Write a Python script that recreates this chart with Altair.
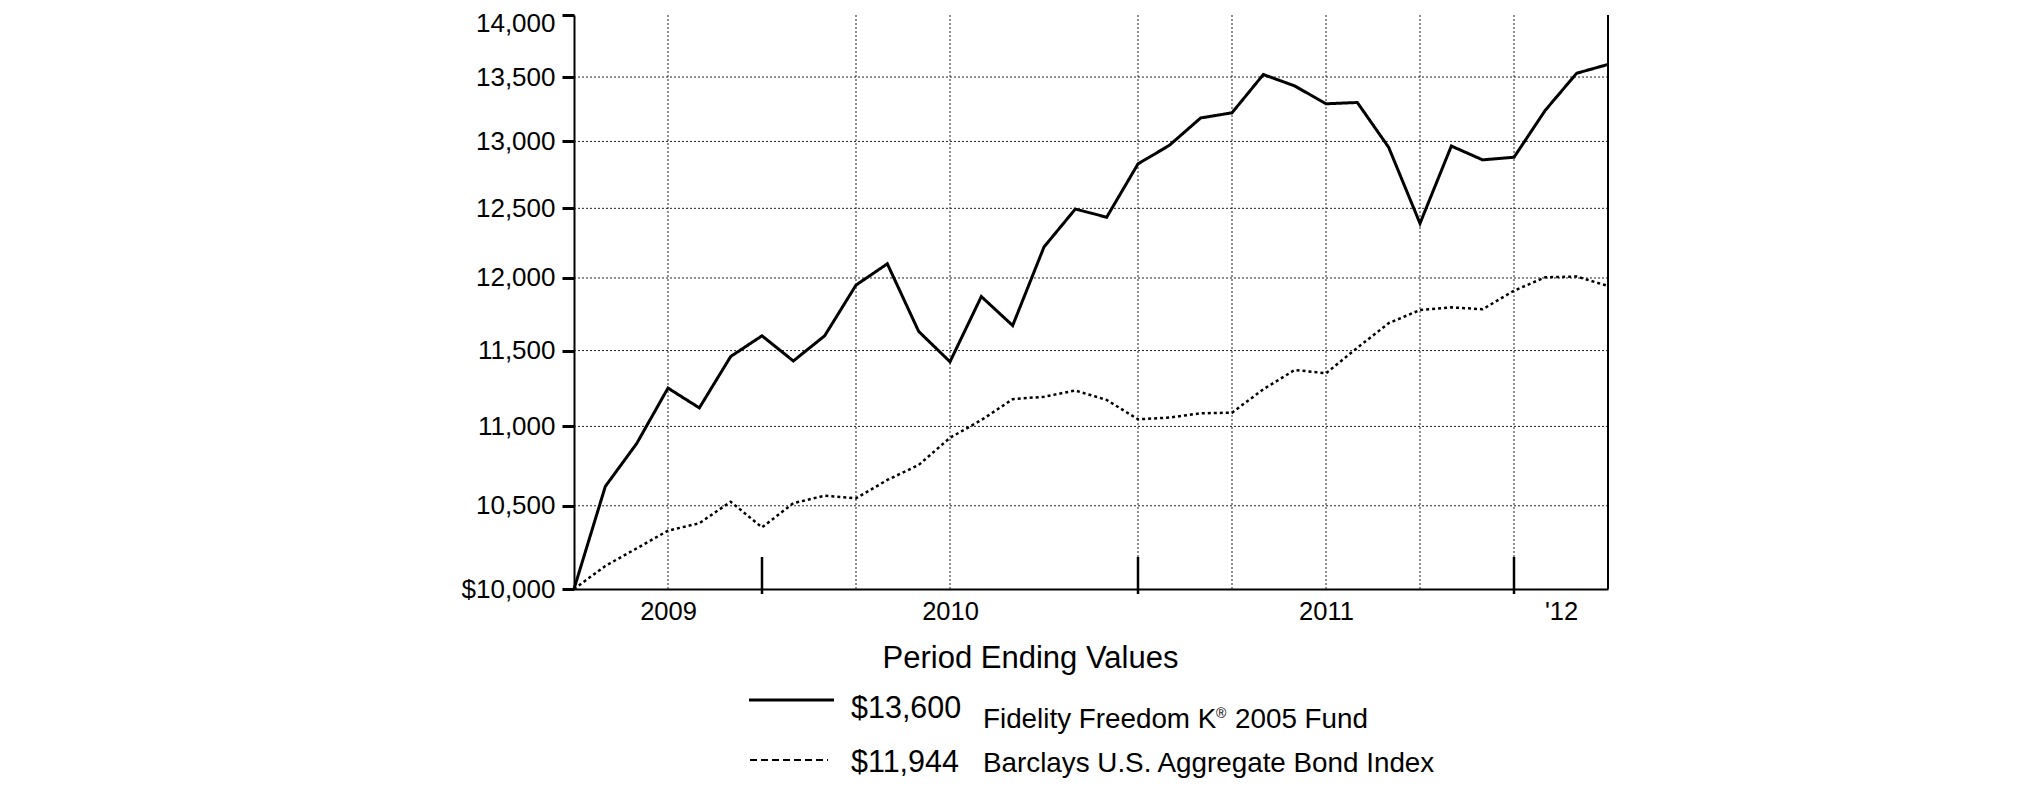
import altair as alt
import pandas as pd

# ---- data ----
fund_name = "Fidelity Freedom K® 2005 Fund"
index_name = "Barclays U.S. Aggregate Bond Index"

# month index 0 = 7/2/2009 start, then month-ends through 3/31/2012
months = list(range(34))
fund = [10000, 10620, 10890, 11250, 11120, 11460, 11600, 11430, 11600, 11950,
        12100, 11630, 11425, 11870, 11670, 12220, 12495, 12435, 12830, 12970,
        13180, 13220, 13520, 13430, 13290, 13300, 12955, 12390, 12965, 12860,
        12880, 13240, 13530, 13600]
bond = [10000, 10136, 10241, 10348, 10393, 10525, 10368, 10516, 10562, 10546,
        10660, 10754, 10927, 11041, 11177, 11193, 11234, 11172, 11046, 11057,
        11085, 11089, 11242, 11370, 11348, 11519, 11686, 11777, 11795, 11782,
        11911, 12005, 12010, 11944]

y_ticks = [10000, 10500, 11000, 11500, 12000, 12500, 13000, 13500, 14000]
y_grid = [10500, 11000, 11500, 12000, 12500, 13000, 13500]
x_grid = [3, 9, 12, 18, 21, 24, 27, 30]
x_major = [6, 18, 30]
year_pos = [3, 12, 24, 31.5]
year_labels = ["2009", "2010", "2011", "'12"]

FONT = "Liberation Sans"
W, H = 1034, 574

df = pd.DataFrame({
    "idx": months * 2,
    "value": fund + bond,
    "series": [fund_name] * len(months) + [index_name] * len(months),
})

xs = alt.Scale(domain=[0, 33], nice=False, zero=False)
ys = alt.Scale(type="log", domain=[10000, 14000], nice=False, zero=False)

label_expr = " : ".join(
    f"datum.value == {p} ? \"{l}\"" for p, l in zip(year_pos, year_labels)
) + " : ''"

x_axis = alt.Axis(values=year_pos, labelExpr=label_expr, ticks=False,
                  grid=False, domainColor="black", domainWidth=2, title=None,
                  labelFont=FONT, labelFontSize=25.5, labelColor="black",
                  labelPadding=10, labelFlush=False, labelOverlap=False)
y_axis = alt.Axis(values=y_ticks,
                  labelExpr="datum.value == 10000 ? '$10,000' : format(datum.value, ',')",
                  labelOffset={"expr": "datum.value == 14000 ? 8.5 : 0"},
                  tickSize=12, tickWidth=3, tickColor="black", title=None,
                  domainColor="black", domainWidth=2, grid=False,
                  labelFont=FONT, labelFontSize=26, labelColor="black",
                  labelPadding=7, labelFlush=False, labelOverlap=False)

hgrid = alt.Chart(pd.DataFrame({"v": y_grid})).mark_rule(
    color="#222", strokeWidth=1, strokeDash=[2, 2]
).encode(
    y=alt.Y("v:Q", scale=ys, axis=y_axis, title=None),
    x=alt.value(0), x2=alt.value(W),
)

vgrid = alt.Chart(pd.DataFrame({"g": x_grid})).mark_rule(
    color="#222", strokeWidth=1, strokeDash=[2, 2]
).encode(
    x=alt.X("g:Q", scale=xs, axis=x_axis, title=None),
    y=alt.value(0), y2=alt.value(H),
)

lines = alt.Chart(df).mark_line(color="black", strokeCap="butt").encode(
    x=alt.X("idx:Q", scale=xs, axis=x_axis, title=None),
    y=alt.Y("value:Q", scale=ys, axis=y_axis, title=None),
    strokeDash=alt.StrokeDash("series:N", legend=None,
                              scale=alt.Scale(domain=[fund_name, index_name],
                                              range=[[1, 0], [3, 3]])),
    strokeWidth=alt.StrokeWidth("series:N", legend=None,
                                scale=alt.Scale(domain=[fund_name, index_name],
                                                range=[3, 2.5])),
    detail="series:N",
)

major = alt.Chart(pd.DataFrame({"m": x_major})).mark_rule(
    color="black", strokeWidth=2.5
).encode(
    x=alt.X("m:Q", scale=xs, axis=x_axis, title=None),
    y=alt.value(H - 32), y2=alt.value(H + 5),
)

one = alt.Data(values=[{"k": 1}])
right_border = alt.Chart(one).mark_rule(color="black", strokeWidth=2).encode(
    x=alt.value(W), y=alt.value(0), y2=alt.value(H)
)


def text(t, x, y, size, align="left"):
    return alt.Chart(alt.Data(values=[{"t": t}])).mark_text(
        font=FONT, fontSize=size, color="black", align=align, baseline="alphabetic"
    ).encode(text="t:N", x=alt.value(x), y=alt.value(y))


title = text("Period Ending Values", 456.5, 653, 31, "center")

leg_solid = alt.Chart(one).mark_rule(color="black", strokeWidth=3).encode(
    x=alt.value(175), x2=alt.value(260), y=alt.value(685)
)
leg_dash = alt.Chart(one).mark_rule(color="black", strokeWidth=2,
                                    strokeDash=[7, 4]).encode(
    x=alt.value(176), x2=alt.value(254), y=alt.value(745)
)

v1 = text(f"${fund[-1]:,}", 277, 703, 30.5)
v2 = text(f"${bond[-1]:,}", 277, 757, 30.5)
n1a = text("Fidelity Freedom K", 409, 713, 27.8)
n1b = text("®", 642, 703, 14)
n1c = text("2005 Fund", 661, 713, 27.8)
n2 = text(index_name, 409, 757, 27.8)

chart = alt.layer(
    hgrid, vgrid, lines, major, right_border, title,
    leg_solid, leg_dash, v1, v2, n1a, n1b, n1c, n2
).properties(
    width=W, height=H,
    autosize=alt.AutoSizeParams(type="none"),
    padding={"left": 566, "top": 7, "right": 380, "bottom": 200},
    background="white",
).configure_view(stroke=None)

chart.save("out.html", embed_options={"renderer": "svg", "actions": False})
